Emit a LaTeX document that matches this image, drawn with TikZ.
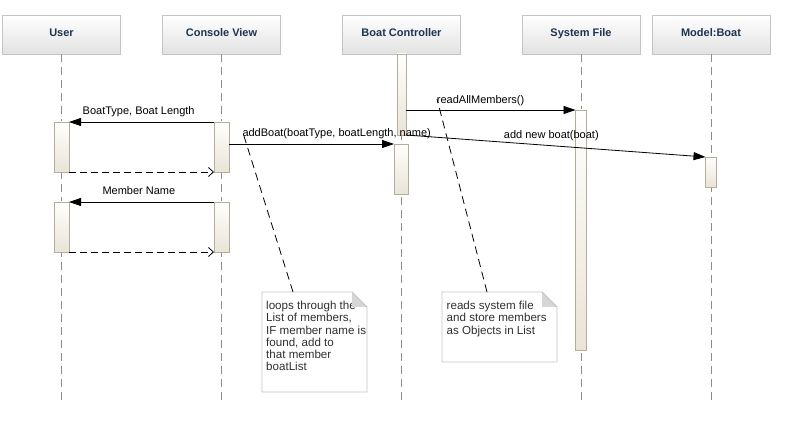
\documentclass[tikz,border=0pt]{standalone}
\usepackage{fontspec}
\setmainfont{Liberation Sans}
\usetikzlibrary{arrows.meta,calc}
\definecolor{headBorder}{HTML}{C4C4C4}
\definecolor{headBot}{HTML}{E2E2E2}
\definecolor{headText}{HTML}{1E3450}
\definecolor{actBorder}{HTML}{B5AD9C}
\definecolor{actBot}{HTML}{EAE4D6}
\definecolor{lifeGray}{HTML}{8C8C8C}
\definecolor{noteBorder}{HTML}{C4C4C4}
\definecolor{foldFill}{HTML}{D6D6D6}
\definecolor{noteText}{HTML}{303030}
\tikzset{
  basefont/.style={font=\fontsize{11}{12.2}\selectfont},
  head/.style={draw=headBorder, top color=white, bottom color=headBot, minimum width=118pt, minimum height=39pt, inner sep=0pt, text height=7.9pt, text depth=4.4pt, font=\fontsize{11}{12.2}\selectfont\bfseries, text=headText},
  act/.style={draw=actBorder, top color=white, bottom color=actBot, anchor=north west, inner sep=0pt, outer sep=0pt, line width=0.8pt},
  life/.style={draw=lifeGray, line width=0.8pt, dash pattern=on 8pt off 5pt},
  msg/.style={line width=0.8pt, -{Triangle[length=12pt,width=8pt]}},
  ret/.style={line width=0.8pt, dash pattern=on 7pt off 4pt, -{Straight Barb[length=5pt,width=9pt]}},
  lbl/.style={basefont, inner sep=0pt, anchor=base west},
  notebox/.style={anchor=north west, inner sep=0pt, outer sep=0pt},
  noteline/.style={draw=noteBorder, fill=white, line width=0.8pt},
  notetxt/.style={font=\fontsize{11.6}{12.2}\selectfont, text=noteText, align=left, inner sep=0pt, anchor=north west},
  notelink/.style={line width=0.8pt, dash pattern=on 8pt off 5pt},
}
\begin{document}
\begin{tikzpicture}[x=1pt,y=-1pt]
\useasboundingbox[fill=white] (0,0) rectangle (789,435);

% headers
\node[head] (user) at (61.5,34.5) {User};
\node[head] (cv)   at (221.5,34.5) {Console View};
\node[head] (bc)   at (401.5,34.5) {Boat Controller};
\node[head] (sf)   at (581,34.5) {System File};
\node[head] (mb)   at (711,34.5) {Model:Boat};

% lifeline ends
\coordinate (userEnd) at (61.5,400);
\coordinate (cvEnd) at (221.5,400);
\coordinate (bcEnd) at (401.5,400);
\coordinate (sfEnd) at (581,400);
\coordinate (mbEnd) at (711,400);

\draw[life] (user.south) -- (userEnd);
\draw[life] (cv.south) -- (cvEnd);
\draw[life] (bc.south) -- (bcEnd);
\draw[life] (sf.south) -- (sfEnd);
\draw[life] (mb.south) -- (mbEnd);

% activations
\node[act, minimum width=15pt, minimum height=50pt] (u1) at (54,122) {};
\node[act, minimum width=15pt, minimum height=50pt] (u2) at (54,202) {};
\node[act, minimum width=15pt, minimum height=50pt] (c1) at (214,122) {};
\node[act, minimum width=15pt, minimum height=50pt] (c2) at (214,202) {};
\node[act, minimum width=9pt, minimum height=81pt] (b1) at (397,54) {};
\node[act, minimum width=14pt, minimum height=50pt] (b2) at (394,144) {};
\node[act, minimum width=11pt, minimum height=240pt] (s1) at (575.5,110) {};
\node[act, minimum width=11pt, minimum height=30pt] (m1) at (705.5,157) {};

% messages
\draw[msg] (c1.north west) -- (u1.north east);
\draw[ret] (u1.south east) -- (c1.south west);
\draw[msg] (c2.north west) -- (u2.north east);
\draw[ret] (u2.south east) -- (c2.south west);
\draw[msg] (c1.east |- b2.north) -- (b2.north west);
\draw[msg] (b1.east |- s1.north) -- (s1.north west);
\draw[msg] (b1.south east) -- (m1.north west);

% labels
\node[lbl] (l1) at (82.5,114.5) {BoatType, Boat Length};
\node[lbl] (l2) at (102.3,195) {Member Name};
\node[lbl] (l3) at (242.3,137) {addBoat(boatType, boatLength, name)};
\node[lbl] (l4) at (436.7,103.3) {readAllMembers()};
\node[lbl] (l5) at (503.7,139) {add new boat(boat)};

% note 1
\node[notebox, minimum width=105pt, minimum height=100pt] (n1) at (262,292) {};
\draw[noteline] (n1.north west) -- ($(n1.north east)+(-15,0)$) -- ($(n1.north east)+(0,15)$) -- (n1.south east) -- (n1.south west) -- cycle;
\node[notetxt] (t1) at (266,301) {loops through the\\List of members,\\IF member name is\\found, add to\\that member\\boatList};
\fill[white] ($(n1.north east)+(-15,-0.4)$) -- ($(n1.north east)+(0.6,-0.4)$) -- ($(n1.north east)+(0.6,15)$) -- cycle;
\fill[foldFill] ($(n1.north east)+(-15,0)$) -- ($(n1.north east)+(-15,15)$) -- ($(n1.north east)+(0,15)$) -- cycle;
\draw[draw=noteBorder, line width=0.8pt] ($(n1.north east)+(-15,0)$) -- ($(n1.north east)+(0,15)$);

% note 2
\node[notebox, minimum width=115pt, minimum height=70pt] (n2) at (442,292) {};
\draw[noteline] (n2.north west) -- ($(n2.north east)+(-15,0)$) -- ($(n2.north east)+(0,15)$) -- (n2.south east) -- (n2.south west) -- cycle;
\node[notetxt] (t2) at (446.5,301) {reads system file\\and store members\\as Objects in List};
\fill[foldFill] ($(n2.north east)+(-15,0)$) -- ($(n2.north east)+(-15,15)$) -- ($(n2.north east)+(0,15)$) -- cycle;
\draw[draw=noteBorder, line width=0.8pt] ($(n2.north east)+(-15,0)$) -- ($(n2.north east)+(0,15)$);

% note links
\coordinate (n1link) at (243,133);
\coordinate (n2link) at (437,99);
\draw[notelink] ($(n1.north west)+(31,0)$) -- (n1link);
\draw[notelink] ($(n2.north west)+(45,0)$) -- (n2link);
\end{tikzpicture}
\end{document}
